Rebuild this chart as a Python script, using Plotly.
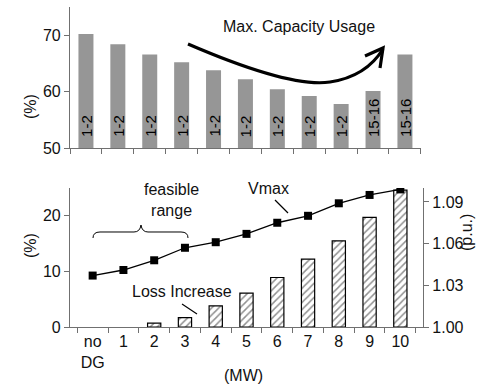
import plotly.graph_objects as go

# ---------------- data ----------------
categories = ["no<br>DG", "1", "2", "3", "4", "5", "6", "7", "8", "9", "10"]
capacity_usage = [70.2, 68.4, 66.6, 65.2, 63.8, 62.2, 60.4, 59.2, 57.8, 60.1, 66.6]
capacity_lines = ["1-2", "1-2", "1-2", "1-2", "1-2", "1-2", "1-2", "1-2", "1-2", "15-16", "15-16"]
loss_increase = [0, 0, 0.7, 1.7, 3.8, 6.1, 8.9, 12.2, 15.5, 19.7, 24.6]
vmax_pu = [1.037, 1.041, 1.048, 1.057, 1.061, 1.067, 1.075, 1.080, 1.089, 1.095, 1.099]
top_ticks = [50, 60, 70]
loss_ticks = [0, 10, 20]
pu_ticks = [1.00, 1.03, 1.06, 1.09]

# ---------------- layout helpers ----------------
W, H = 490, 392
ML, MR, MT, MB = 70, 67, 7, 65
PW, PH = W - ML - MR, H - MT - MB


def px(x):
    return (x - ML) / PW


def py(y):
    return (H - MB - y) / PH


FONT = "Liberation Sans, Arial, sans-serif"
AX = "#707070"
TXT = "#111111"
FS = 16

fig = go.Figure()

fig.add_trace(go.Bar(
    x=categories, y=capacity_usage, xaxis="x", yaxis="y",
    marker=dict(color="#969696", line=dict(width=0)),
    width=0.47,
    showlegend=False, hoverinfo="skip",
))

fig.add_trace(go.Bar(
    x=categories, y=loss_increase, xaxis="x2", yaxis="y2",
    marker=dict(color="white",
                line=dict(color="#000000", width=[0 if v == 0 else 1.2 for v in loss_increase]),
                pattern=dict(shape="/", fgcolor="#222222", bgcolor="white",
                             size=5, solidity=0.3)),
    width=0.43,
    showlegend=False, hoverinfo="skip",
))

fig.add_trace(go.Scatter(
    x=categories, y=vmax_pu, xaxis="x2", yaxis="y3",
    mode="lines+markers",
    line=dict(color="#000000", width=1.3),
    marker=dict(symbol="square", size=8, color="#000000"),
    showlegend=False, hoverinfo="skip",
))

axis_common = dict(showline=True, linecolor=AX, linewidth=1.2, ticks="outside",
                   tickcolor=AX, tickwidth=1.2, ticklen=5, showgrid=False,
                   zeroline=False, automargin=False, tickangle=0,
                   tickfont=dict(family=FONT, size=FS, color=TXT))

top_dom = [py(148), py(7)]
bot_dom = [py(327), py(188)]

fig.update_layout(
    width=W, height=H,
    margin=dict(l=ML, r=MR, t=MT, b=MB, pad=0),
    paper_bgcolor="white", plot_bgcolor="white",
    font=dict(family=FONT, size=FS, color=TXT),
    xaxis=dict(domain=[0, 0.994], anchor="y", type="category",
               categoryorder="array", categoryarray=categories,
               tickson="boundaries", showticklabels=False, **axis_common),
    yaxis=dict(domain=top_dom, anchor="x", range=[50, 75], tickvals=top_ticks,
               **axis_common),
    xaxis2=dict(domain=[0, 1], anchor="y2", type="category",
                categoryorder="array", categoryarray=categories,
                tickson="boundaries", **axis_common),
    yaxis2=dict(domain=bot_dom, anchor="x2", range=[0, 25], tickvals=loss_ticks,
                **axis_common),
    yaxis3=dict(domain=bot_dom, anchor="x2", overlaying="y2", side="right",
                range=[1.0, 1.1], tickvals=pu_ticks, tickformat=".2f",
                **axis_common),
)

ann = dict(xref="paper", yref="paper", showarrow=False,
           font=dict(family=FONT, size=FS, color=TXT))
annotations = [
    dict(text="(%)", x=px(20), y=py(92), textangle=-90, **ann),
    dict(text="(%)", x=px(20), y=py(260), textangle=-90, **ann),
    dict(text="(p.u.)", x=px(477), y=py(253), textangle=-90, **ann),
    dict(text="(MW)", x=px(243), y=py(386), **ann),
    dict(text="Max. Capacity Usage", x=px(299), y=py(16), **ann),
    dict(text="feasible<br>range", x=px(142), y=py(200), **ann),
    dict(text="Vmax", x=px(268), y=py(188), **ann),
    dict(text="Loss Increase", x=px(130), y=py(302), **ann),
]
# line-number labels inside the top bars, anchored to the data axes
for c, lab in zip(categories, capacity_lines):
    annotations.append(dict(text=lab, x=c, y=50, xref="x", yref="y",
                            yanchor="bottom", xanchor="center", yshift=9,
                            textangle=-90, showarrow=False,
                            font=dict(family=FONT, size=15, color="#000000")))
fig.update_layout(annotations=annotations)


def path(cmds):
    out = []
    for c in cmds:
        if isinstance(c, str):
            out.append(c)
        else:
            out.append(f"{px(c[0]):.5f},{py(c[1]):.5f}")
    return " ".join(out)


shapes = [
    # curved trend arrow
    dict(type="path", xref="paper", yref="paper",
         path=path(["M", (188, 44), "Q", (290, 88), (330, 82),
                    "Q", (366, 76.6), (383, 49)]),
         line=dict(color="#000000", width=3.2)),
    dict(type="path", xref="paper", yref="paper",
         path=path(["M", (365, 56), "L", (383, 48), "L", (380, 68)]),
         line=dict(color="#000000", width=3.2)),
    # brace for feasible range
    dict(type="path", xref="paper", yref="paper",
         path=path(["M", (93, 238), "Q", (93, 232), (100, 232), "L", (134, 232),
                    "Q", (140, 232), (141, 225), "Q", (142, 232), (148, 232),
                    "L", (181, 232), "Q", (188, 232), (188, 238)]),
         line=dict(color="#000000", width=1)),
    # pointers
    dict(type="line", xref="paper", yref="paper", x0=px(275), y0=py(200),
         x1=px(288), y1=py(213), line=dict(color="#000000", width=1.2)),
    dict(type="line", xref="paper", yref="paper", x0=px(182), y0=py(304),
         x1=px(197), y1=py(314), line=dict(color="#000000", width=1.2)),
]
fig.update_layout(shapes=shapes)

fig.write_html("out.html")
